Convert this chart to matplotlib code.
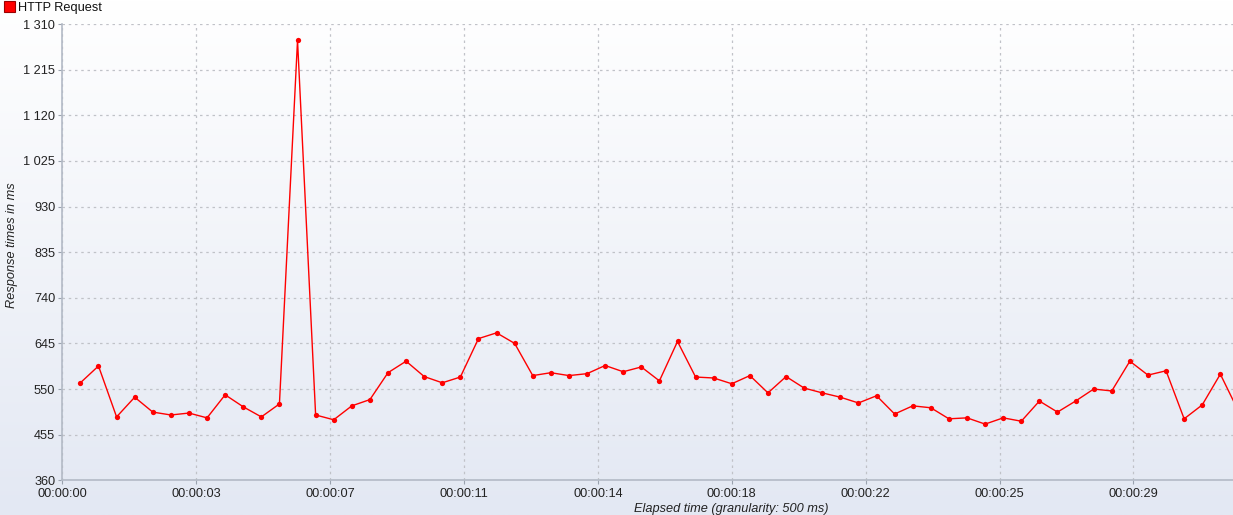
import numpy as np
import matplotlib
matplotlib.use("Agg")
import matplotlib.pyplot as plt
from matplotlib.patches import Rectangle

plt.rcParams['font.family'] = ['Liberation Sans', 'DejaVu Sans']

# ---- data ----
series_name = "HTTP Request"
granularity_s = 0.5
response_ms = [563, 598, 492, 533, 502, 496, 500, 490, 538, 513, 492, 519,
               1276, 496, 486, 515, 528, 584, 608, 576, 563, 575, 655, 667,
               645, 578, 584, 578, 582, 599, 586, 596, 567, 649, 575, 573,
               561, 578, 542, 576, 552, 542, 533, 521, 536, 498, 515, 511,
               488, 490, 477, 490, 483, 525, 502, 525, 550, 546, 608, 579,
               588, 488, 517, 581, 504]
x_tick_pos = [0, 3.7, 7.4, 11.1, 14.8, 18.5, 22.2, 25.9, 29.6]
x_tick_labels = ["00:00:00", "00:00:03", "00:00:07", "00:00:11", "00:00:14",
                 "00:00:18", "00:00:22", "00:00:25", "00:00:29"]
y_ticks = [360, 455, 550, 645, 740, 835, 930, 1025, 1120, 1215, 1310]
y_tick_labels = ["360", "455", "550", "645", "740", "835", "930", "1 025",
                 "1 120", "1 215", "1 310"]

times = [granularity_s * (i + 1) for i in range(len(response_ms))]

W, H = 1233, 515
fig = plt.figure(figsize=(W / 100, H / 100), dpi=100)

# background gradient
bg = fig.add_axes([0, 0, 1, 1], zorder=-10)
top = np.array([1.0, 1.0, 1.0])
bot = np.array([0xe3, 0xe8, 0xf3]) / 255.0
t = np.linspace(0, 1, 256)[:, None]
grad = (top * (1 - t) + bot * t)[:, None, :]
grad = np.repeat(grad, 2, axis=1)
bg.imshow(grad, aspect='auto', extent=[0, 1, 0, 1])
bg.set_axis_off()

left, right = 62.3 / W, 1.0
bottom_px, top_px = 480.3, 24.0
ax = fig.add_axes([left, (H - bottom_px) / H, right - left, (bottom_px - top_px) / H])
ax.patch.set_alpha(0)

ax.plot(times, response_ms, color='#ff0000', lw=1.0, marker='o',
        markersize=3.8, markerfacecolor='#ff0000', markeredgewidth=0,
        clip_on=True, zorder=3)

ax.set_xlim(0, 32.35)
ax.set_ylim(360, 1310)
ax.set_xticks(x_tick_pos)
ax.set_xticklabels(x_tick_labels)
ax.set_yticks(y_ticks)
ax.set_yticklabels(y_tick_labels)

ax.grid(True, color='#c0c2c8', linestyle=(0, (2, 3)), linewidth=0.9)
ax.set_axisbelow(True)
for s in ['top', 'right']:
    ax.spines[s].set_visible(False)
for s in ['left', 'bottom']:
    ax.spines[s].set_color('#b3bac6')
    ax.spines[s].set_linewidth(1.2)
ax.tick_params(axis='both', colors='#9aa2ae', length=3, width=0.8,
               labelcolor='#222222', labelsize=9.2)
ax.tick_params(axis='y', pad=2)
ax.tick_params(axis='x', pad=2.5)

fig.text(12 / W, 1 - 245 / H, "Response times in ms", rotation=90,
         style='italic', fontsize=9.2, color='#222222', ha='center', va='center')
fig.text(731 / W, 1 - 509 / H, "Elapsed time (granularity: 500 ms)",
         style='italic', fontsize=9.2, color='#222222', ha='center', va='center')

# legend
fig.patches.append(Rectangle((4 / W, 1 - 12 / H), 11 / W, 11 / H,
                             transform=fig.transFigure, facecolor='#ff0000',
                             edgecolor='#9b0000', linewidth=0.8))
fig.text(18 / W, 1 - 7.5 / H, series_name, fontsize=9.2, color='#111111',
         ha='left', va='center')

fig.savefig("out.png", dpi=100)
